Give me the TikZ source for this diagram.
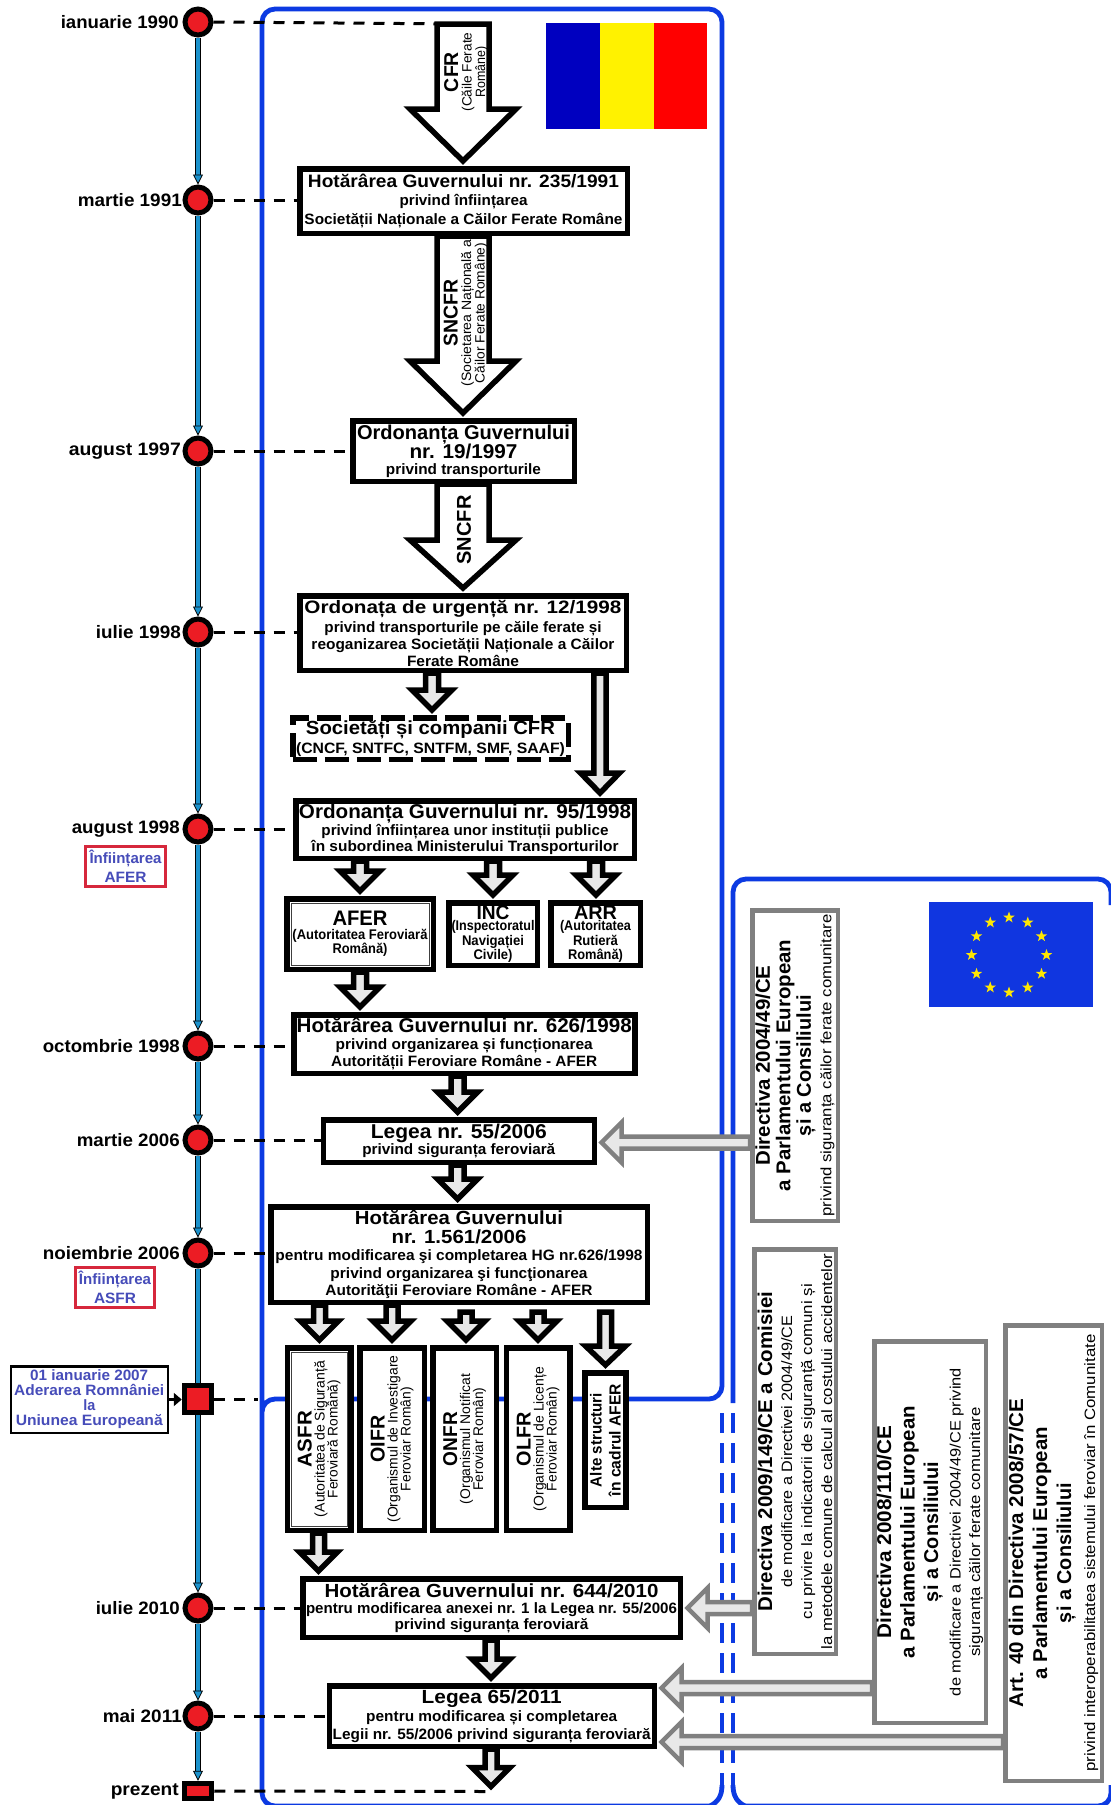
\documentclass[tikz,border=0pt]{standalone}
\usepackage{fontspec}
\usepackage{graphicx}
\setmainfont{Liberation Sans}
\usetikzlibrary{calc,arrows.meta,shapes.geometric}
\definecolor{frameblue}{RGB}{12,58,226}
\definecolor{tlblue}{RGB}{28,146,204}
\definecolor{dotred}{RGB}{236,28,36}
\definecolor{lblblue}{RGB}{70,76,185}
\definecolor{boxred}{RGB}{214,40,60}
\definecolor{greyline}{RGB}{128,128,128}
\definecolor{greyfill}{RGB}{232,232,232}
\definecolor{euback}{RGB}{16,54,224}
\definecolor{roblue}{RGB}{0,0,192}
\newcommand\LnB[3]{\resizebox{#1pt}{\height}{\fontsize{#2}{#2}\selectfont\bfseries #3}}
\newcommand\LnR[3]{\resizebox{#1pt}{\height}{\fontsize{#2}{#2}\selectfont\mdseries #3}}
\newcommand\lh[1]{\fontsize{12}{#1}\selectfont\bfseries\lineskiplimit=-30pt }
\newcommand\vtx[2]{\rotatebox{90}{\vbox{\baselineskip=#1pt\lineskiplimit=-30pt\halign{\hfil##\hfil\cr #2\crcr}}}}
\newcommand\tight[1]{\cr\noalign{\vskip #1pt}}
\newcommand\bx[7][]{%
  \pgfmathsetmacro\bxw{#5-#3}\pgfmathsetmacro\bxh{#6-#4}%
  \pgfmathsetmacro\bxc{(#3+#5)/2}\pgfmathsetmacro\bxd{(#4+#6)/2}%
  \node[boxn,#1,minimum width=\bxw pt-\pgflinewidth,minimum height=\bxh pt-\pgflinewidth] (#2) at (\bxc,\bxd) {#7};}
% vertical block arrow: style, from, to, centre x, half shaft, half head, head length
\newcommand\varrow[7][]{%
  \draw[blockk,#1] let \p1=(#2),\p2=(#3) in
    ({#4pt-#5pt},\y1) -- ({#4pt-#5pt},{\y2+(#7+5)*1pt}) -- ({#4pt-#6pt},{\y2+(#7+5)*1pt})
    -- ({#4pt},{\y2+5pt}) -- ({#4pt+#6pt},{\y2+(#7+5)*1pt}) -- ({#4pt+#5pt},{\y2+(#7+5)*1pt})
    -- ({#4pt+#5pt},\y1) -- cycle;}
% horizontal block arrow pointing left: from, to, y
\newcommand\harrow[3]{%
  \draw[blockg] let \p1=(#1),\p2=(#2) in
    (\x1,{-#3pt+6pt}) -- ({\x2+24.5pt},{-#3pt+6pt}) -- ({\x2+24.5pt},{-#3pt+20pt})
    -- ({\x2+4.5pt},{-#3pt}) -- ({\x2+24.5pt},{-#3pt-20pt}) -- ({\x2+24.5pt},{-#3pt-6pt})
    -- (\x1,{-#3pt-6pt}) -- cycle;}
\newcommand\tlA[2]{%
  \draw[line width=5.5pt,black,shorten >=9pt] (#1.south) -- (#2.north);
  \draw[line width=3.7pt,tlblue,shorten >=8pt] (#1.south) -- (#2.north);
  \draw[line width=.8pt,black,-{Triangle[length=10pt,width=10pt,fill=tlblue]}] ($(#2.north)+(0,-10)$) -- (#2.north);}
\newcommand\tlP[2]{%
  \draw[line width=5.5pt,black] (#1.south) -- (#2.north);
  \draw[line width=3.7pt,tlblue] (#1.south) -- (#2.north);}
\tikzset{
  x=1pt,y=-1pt,
  boxn/.style={draw=black,fill=white,line width=5.5pt,inner sep=0pt,align=center,font=\lh{17}},
  ls/.style={font=\lh{#1}},
  gbox/.style={draw=greyline,line width=4.5pt},
  blockk/.style={draw=black,fill=greyfill,line width=5.5pt,miter limit=10},
  blockw/.style={fill=white},
  blockg/.style={draw=greyline,fill=greyfill,line width=4.5pt,miter limit=10},
  frame/.style={draw=frameblue,line width=4.8pt},
  dateln/.style={anchor=east,inner sep=0pt,font=\bfseries},
  dot/.style={circle,draw=black,fill=dotred,line width=5pt,minimum size=26pt,inner sep=0pt},
  sqn/.style={rectangle,draw=black,fill=dotred,line width=5pt,inner sep=0pt},
  dashln/.style={draw=black,line width=3pt,dash pattern=on 11pt off 9pt},
  redbox/.style={draw=boxred,line width=3pt,text=lblblue},
  bluebox/.style={line width=2.5pt,text=lblblue},
  innerln/.style={draw=black!75,line width=.9pt},
  lbl/.style={inner sep=0pt,font=\bfseries},
  eustar/.style={star,star points=5,star point ratio=2.5,fill=yellow!90!orange,inner sep=0pt,minimum size=12pt}
}
\begin{document}
\begin{tikzpicture}
\useasboundingbox (0,0) rectangle (1111,1805);
\fill[white] (0,0) rectangle (1111,1805);
% frames
\draw[frame,rounded corners=13pt] (712,1806) -- (262,1806) -- (262,9) -- (722,9) -- (722,1399) -- (262,1399) -- (262,1430);
\draw[frame,rounded corners=13pt] (733,1403) -- (733,879) -- (1111,879) -- (1111,905);
\draw[frame,rounded corners=13pt] (742,1806) -- (1111,1806) -- (1111,1785);
\draw[frame,dash pattern=on 20pt off 10pt] (722,1413) -- (722,1785);
\draw[frame,dash pattern=on 20pt off 10pt] (733,1413) -- (733,1785);
\draw[frame] (722,1785) .. controls (722,1796) and (718,1802) .. (710,1806);
\draw[frame] (733,1785) .. controls (733,1796) and (737,1802) .. (745,1806);
% flags
\fill[roblue] (546,23) rectangle (600,129);
\fill[yellow] (600,23) rectangle (654,129);
\fill[red] (654,23) rectangle (707,129);
\fill[euback] (929,902) rectangle (1093,1007);
\foreach \a in {0,30,...,330}{\node[eustar] (eu\a) at ({1009+37.5*cos(\a)},{955+37.5*sin(\a)}) {};}
% timeline
\node[dot] (c1) at (198,22) {};
\node[dot] (c2) at (198,200) {};
\node[dot] (c3) at (198,451) {};
\node[dot] (c4) at (198,632) {};
\node[dot] (c5) at (198,829) {};
\node[dot] (c6) at (198,1046) {};
\node[dot] (c7) at (198,1140) {};
\node[dot] (c8) at (198,1253) {};
\node[sqn,minimum width=27.5pt,minimum height=27.5pt] (c9) at (198,1399) {};
\node[dot] (c10) at (198,1608) {};
\node[dot] (c11) at (198,1716) {};
\node[sqn,minimum width=27.5pt,minimum height=15.5pt] (c12) at (198,1791) {};
\tlA{c1}{c2}\tlA{c2}{c3}\tlA{c3}{c4}\tlA{c4}{c5}\tlA{c5}{c6}\tlA{c6}{c7}\tlA{c7}{c8}
\tlP{c8}{c9}\tlA{c9}{c10}\tlA{c10}{c11}\tlA{c11}{c12}
\node[dateln] (d1) at (179,22) {\LnB{118}{18}{ianuarie 1990}};
\node[dateln] (d2) at (182,200) {\LnB{104}{18}{martie 1991}};
\node[dateln] (d3) at (181,451) {\LnB{112}{18}{august 1997}};
\node[dateln] (d4) at (181,632) {\LnB{85}{18}{iulie 1998}};
\node[dateln] (d5) at (180,829) {\LnB{108}{18}{august 1998}};
\node[dateln] (d6) at (180,1046) {\LnB{137}{18}{octombrie 1998}};
\node[dateln] (d7) at (180,1140) {\LnB{103}{18}{martie 2006}};
\node[dateln] (d8) at (180,1253) {\LnB{137}{18}{noiembrie 2006}};
\node[dateln] (d10) at (180,1608) {\LnB{84}{18}{iulie 2010}};
\node[dateln] (d11) at (182,1716) {\LnB{79}{18}{mai 2011}};
\node[dateln] (d12) at (179,1791) {\LnB{68}{18}{prezent}};
\bx[redbox,ls=19]{afernote}{84}{845}{167}{888}{\LnB{72}{15}{Înființarea}\\\LnB{42}{15}{AFER}}
\bx[redbox,ls=19]{asfrnote}{74}{1266}{156}{1309}{\LnB{72}{15}{Înființarea}\\\LnB{42}{15}{ASFR}}
\bx[bluebox,ls=15]{aderare}{9.5}{1365}{169}{1434}{\LnB{118}{15}{01 ianuarie 2007}\\\LnB{150}{15}{Aderarea Romnâniei}\\\LnB{12}{15}{la}\\\LnB{147}{15}{Uniunea Europeană}}
\draw[line width=3.5pt,-{Triangle[length=8pt,width=13pt]}] (aderare.east) -- (aderare.east -| c9.west);
% boxes
\bx[ls=18.5]{b1}{297}{166}{630}{236}{\LnB{311}{18}{Hotărârea Guvernului nr. 235/1991}\\\LnB{128}{15}{privind înființarea}\\\LnB{318}{15}{Societății Naționale a Căilor Ferate Române}}
\bx[ls=19]{b2}{350}{418}{577}{484}{\LnB{213}{20}{Ordonanța Guvernului}\\\LnB{108}{20}{nr. 19/1997}\\[-3pt]\LnB{155}{15}{privind transporturile}}
\bx[ls=17]{b3}{297}{593}{629}{673}{\LnB{317}{18}{Ordonața de urgență nr. 12/1998}\\[2pt]\LnB{277}{15}{privind transporturile pe căile ferate și}\\\LnB{303}{15}{reoganizarea Societății Naționale a Căilor}\\\LnB{112}{15}{Ferate Române}}
\bx[ls=19,dash pattern=on 24pt off 8pt]{soc}{290}{715}{571}{762}{\LnB{249}{19}{Societăți și companii CFR}\\\LnB{269}{15}{(CNCF, SNTFC, SNTFM, SMF, SAAF)}}
\bx[ls=17]{b4}{293}{798}{637}{861}{\LnB{332}{20}{Ordonanța Guvernului nr. 95/1998}\\\LnB{287}{15}{privind înființarea unor instituții publice}\\[-1pt]\LnB{307}{15}{în subordinea Ministerului Transporturilor}}
\bx[ls=14]{afer}{284}{896}{436}{972}{\LnB{55}{21}{AFER}\\\LnR{135}{14}{\bfseries(Autoritatea Feroviară}\\\LnR{55}{14}{\bfseries Română)}}
\bx[ls=14.5]{inc}{446}{900}{540}{968}{\LnB{33}{20}{INC}\\[-3pt]\LnB{83}{14}{(Inspectoratul}\\\LnB{62}{14}{Navigației}\\\LnB{39}{14}{Civile)}}
\bx[ls=14.5]{arr}{548}{900}{643}{968}{\LnB{43}{20}{ARR}\\[-3pt]\LnB{71}{14}{(Autoritatea}\\\LnB{45}{14}{Rutieră}\\\LnB{55}{14}{Română)}}
\bx[ls=17]{b5}{291}{1012}{637.5}{1076}{\LnB{335}{20}{Hotărârea Guvernului nr. 626/1998}\\\LnB{257}{15}{privind organizarea și funcționarea}\\\LnB{266}{15}{Autorității Feroviare Române - AFER}}
\bx[ls=16]{b6}{320.5}{1117}{597}{1165}{\LnB{176}{20}{Legea nr. 55/2006}\\\LnB{193}{15}{privind siguranța feroviară}}
\bx[ls=17.5]{b7}{268}{1204}{650}{1305}{\LnB{208}{19}{Hotărârea Guvernului}\\[1pt]\LnB{135}{19}{nr. 1.561/2006}\\\LnB{367}{15}{pentru modificarea şi completarea HG nr.626/1998}\\\LnB{257}{15}{privind organizarea şi funcţionarea}\\\LnB{267}{15}{Autorităţii Feroviare Române - AFER}}
\bx{asfr}{284.6}{1345}{353.5}{1533}{\vtx{18}{\LnB{56}{20}{ASFR}\tight{-5}\LnR{156}{14}{(Autoritatea de Siguranță}\tight{-5}\LnR{118}{14}{Feroviară Română)}}}
\bx{oifr}{357}{1345}{427}{1533}{\vtx{18}{\LnB{47}{20}{OIFR}\tight{-5}\LnR{167}{14}{(Organismul de Investigare}\tight{-5}\LnR{104}{14}{Feroviar Român)}}}
\bx{onfr}{430}{1345}{499}{1533}{\vtx{18}{\LnB{54}{20}{ONFR}\tight{-5}\LnR{130}{14}{(Organismul Notificat}\tight{-5}\LnR{103}{14}{Feroviar Român)}}}
\bx{olfr}{503.5}{1345}{572.5}{1533}{\vtx{18}{\LnB{54}{20}{OLFR}\tight{-5}\LnR{144}{14}{(Organismul de Licențe}\tight{-5}\LnR{104}{14}{Feroviar Român)}}}
\bx{alte}{582}{1370}{628.6}{1510}{\vtx{19}{\LnB{94}{16}{Alte structuri}\cr\LnB{112}{16}{în cadrul AFER}}}
\bx[ls=16]{b8}{300}{1576}{683}{1640}{\LnB{334}{19}{Hotărârea Guvernului nr. 644/2010}\\\LnB{371}{15}{pentru modificarea anexei nr. 1 la Legea nr. 55/2006}\\\LnB{194}{15}{privind siguranța feroviară}}
\bx[ls=18]{b9}{326.5}{1683}{657}{1749}{\LnB{140}{19}{Legea 65/2011}\\\LnB{251}{15}{pentru modificarea și completarea}\\\LnB{318}{15}{Legii nr. 55/2006 privind siguranța feroviară}}
\draw[innerln] ([xshift=7pt,yshift=7pt]afer.south west) rectangle ([xshift=-7pt,yshift=-7pt]afer.north east);
\draw[innerln] ([xshift=6.5pt,yshift=7pt]asfr.south west) rectangle ([xshift=-6.5pt,yshift=-7pt]asfr.north east);
% directive boxes
\bx[gbox]{d04}{750}{908}{840}{1223}{\vtx{20.5}{\LnB{200}{20}{Directiva 2004/49/CE}\cr\LnB{252}{20}{a Parlamentului European}\cr\LnB{141}{20}{și a Consiliului}\cr\LnR{302}{15}{privind siguranța căilor ferate comunitare}}}
\bx[gbox]{d09}{752}{1247}{838}{1656}{\vtx{20}{\LnB{320}{20}{Directiva 2009/149/CE a Comisiei}\cr\LnR{272}{15}{de modificare a Directivei 2004/49/CE}\cr\LnR{335}{15}{cu privire la indicatorii de siguranță comuni și}\cr\LnR{396}{15}{la metodele comune de calcul al costului accidentelor}}}
\bx[gbox]{d08}{872}{1339}{988}{1725}{\vtx{23.5}{\LnB{213}{20}{Directiva 2008/110/CE}\cr\LnB{252}{20}{a Parlamentului European}\cr\LnB{140}{20}{și a Consiliului}\tight{-1}\LnR{328}{15}{de modificare a Directivei 2004/49/CE privind}\tight{-4}\LnR{249}{15}{siguranța căilor ferate comunitare}}}
\bx[gbox]{a40}{1003}{1323}{1104}{1783}{\vtx{24}{\LnB{309}{20}{Art. 40 din Directiva 2008/57/CE}\cr\LnB{252}{20}{a Parlamentului European}\cr\LnB{140}{20}{și a Consiliului}\cr\LnR{437}{15}{privind interoperabilitatea sistemului feroviar în Comunitate}}}
% free ends
\coordinate (cfrtop) at (463,24);
\coordinate (endtip) at (491,1791.5);
\coordinate (onfrtop) at (466,1312);
\coordinate (olfrtop) at (538,1312);
\coordinate (altetop) at (605.5,1312);
\coordinate (frend) at (258,1399);
% dashed date lines
\draw[dashln] (c1.east) -- (cfrtop);
\draw[dashln] (c2.east) -- (c2.east -| b1.west);
\draw[dashln] (c3.east) -- (c3.east -| b2.west);
\draw[dashln] (c4.east) -- (c4.east -| b3.west);
\draw[dashln] (c5.east) -- (c5.east -| b4.west);
\draw[dashln] (c6.east) -- (c6.east -| b5.west);
\draw[dashln] (c7.east) -- (c7.east -| b6.west);
\draw[dashln] (c8.east) -- (c8.east -| b7.west);
\draw[dashln] (c9.east) -- (frend);
\draw[dashln] (c10.east) -- (c10.east -| b8.west);
\draw[dashln] (c11.east) -- (c11.east -| b9.west);
\draw[dashln] (c12.east) -- (endtip);
% block arrows
\varrow[blockw]{cfrtop}{b1.north}{463}{26}{53}{52}
\varrow[blockw]{b1.south}{b2.north}{463}{26}{53}{52}
\varrow[blockw]{b2.south}{b3.north}{463}{26}{53}{48}
\varrow{b3.south -| 432,0}{soc.north -| 432,0}{432}{6.5}{20}{20}
\varrow{b3.south}{b4.north}{600}{6.2}{19.5}{20}
\varrow{b4.south}{afer.north}{360}{6.5}{20}{20}
\varrow{b4.south}{inc.north}{493}{6.5}{20}{20}
\varrow{b4.south}{arr.north}{596}{6.5}{20}{20}
\varrow{afer.south}{b5.north}{360}{6.5}{20}{20}
\varrow{b5.south}{b6.north}{457.6}{6.5}{20}{20}
\varrow{b6.south}{b7.north}{457.6}{6.5}{20}{20}
\varrow{b7.south}{asfr.north}{319.5}{6}{19}{19}
\varrow{b7.south}{oifr.north}{392}{6}{19}{19}
\varrow{onfrtop}{onfr.north}{466}{6}{19}{19}
\varrow{olfrtop}{olfr.north}{538}{6}{19}{19}
\varrow{altetop}{alte.north}{605.5}{6}{20}{19}
\varrow{asfr.south}{b8.north}{318.5}{6}{19}{19}
\varrow{b8.south}{b9.north}{491}{6}{19}{19}
\varrow{b9.south}{endtip}{491}{6}{19}{19}
\harrow{d04.west}{b6.east}{1142.5}
\harrow{d09.west}{b8.east}{1608}
\harrow{d08.west}{b9.east}{1688}
\harrow{a40.west}{b9.east}{1742}
% labels in the big arrows
\node[lbl] (cfrlbl) at (466,72) {\vtx{13.5}{\LnB{40}{20}{CFR}\cr\LnR{79}{13.5}{(Căile Ferate}\cr\LnR{51}{13.5}{Române)}}};
\node[lbl] (snlbl) at (465.5,313) {\vtx{13.5}{\LnB{67}{20}{SNCFR}\cr\LnR{147}{13.5}{(Societarea Națională a}\cr\LnR{140}{13.5}{Căilor Ferate Române)}}};
\node[lbl] (snlblb) at (464,530) {\vtx{14}{\LnB{69}{20}{SNCFR}}};
\end{tikzpicture}
\end{document}
